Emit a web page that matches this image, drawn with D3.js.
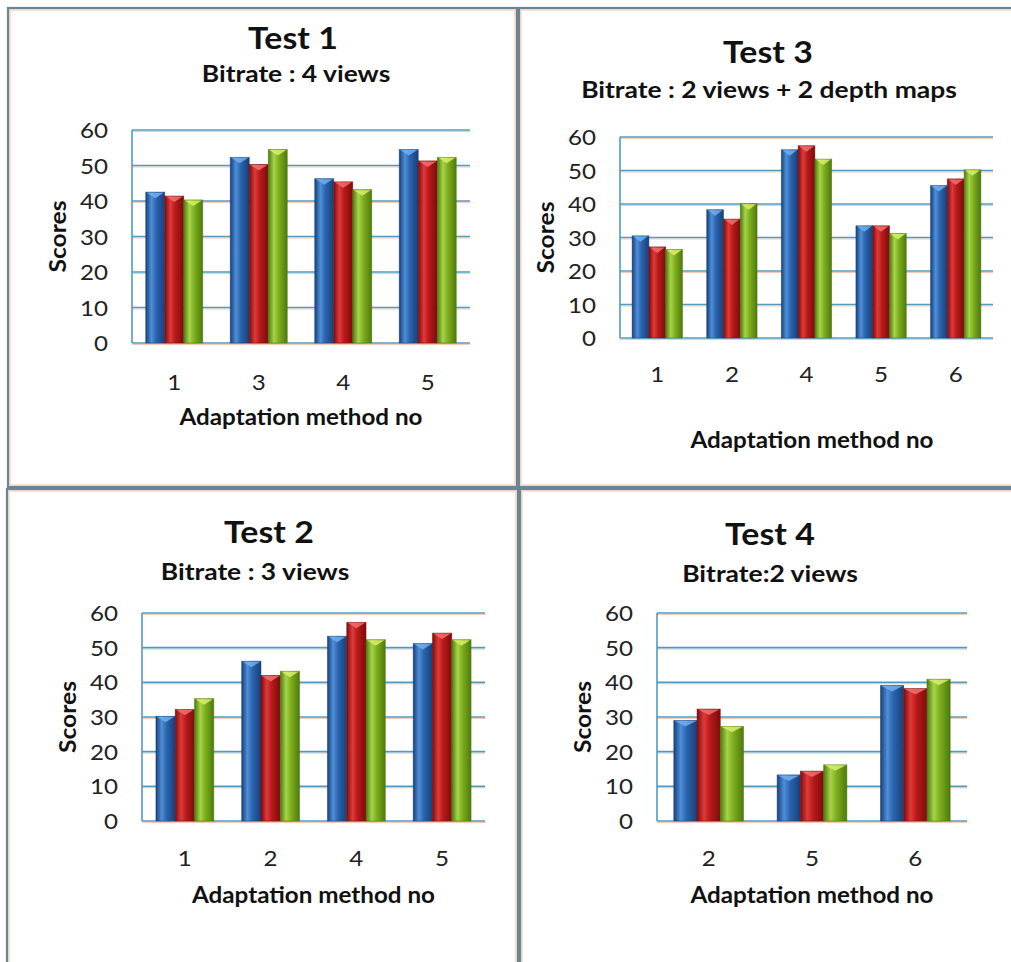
<!DOCTYPE html>
<html>
<head>
<meta charset="utf-8">
<script src="https://cdn.jsdelivr.net/npm/d3@7"></script>
<style>
  html, body { margin: 0; padding: 0; background: #fff; }
  svg { display: block; font-family: Lato, "Open Sans", sans-serif; }
</style>
</head>
<body>
<svg id="chart" width="1011" height="962"></svg>
<script>
// ---------- DATA ----------
const yTicks = [0, 10, 20, 30, 40, 50, 60];

const test1Categories = ["1", "3", "4", "5"];
const test1Blue  = [42.5, 52.3, 46.3, 54.5];
const test1Red   = [41.4, 50.3, 45.4, 51.3];
const test1Green = [40.3, 54.5, 43.2, 52.3];

const test3Categories = ["1", "2", "4", "5", "6"];
const test3Blue  = [30.5, 38.3, 56.2, 33.5, 45.5];
const test3Red   = [27.2, 35.5, 57.4, 33.5, 47.5];
const test3Green = [26.4, 40.1, 53.4, 31.2, 50.2];

const test2Categories = ["1", "2", "4", "5"];
const test2Blue  = [30.2, 46.1, 53.3, 51.2];
const test2Red   = [32.2, 42.0, 57.3, 54.2];
const test2Green = [35.3, 43.2, 52.3, 52.3];

const test4Categories = ["2", "5", "6"];
const test4Blue  = [29.0, 13.3, 39.1];
const test4Red   = [32.3, 14.4, 38.2];
const test4Green = [27.3, 16.2, 40.9];

const titles    = ["Test 1", "Test 3", "Test 2", "Test 4"];
const subtitles = ["Bitrate : 4 views", "Bitrate : 2 views + 2 depth maps", "Bitrate : 3 views", "Bitrate:2 views"];
const yAxisTitle = "Scores";
const xAxisTitle = "Adaptation method no";

// ---------- LAYOUT ----------
const panels = [
  { box: [8, 8, 517, 487],   plot: [132, 130, 470, 343], title: [293, 49], sub: [296, 82], xlab: 390, xtitle: 425,
    cats: test1Categories, series: [test1Blue, test1Red, test1Green] },
  { box: [519, 8, 1016, 487], plot: [620, 137, 993, 338], title: [768, 63], sub: [769, 98], xlab: 382, xtitle: 448, xtitleX: 812,
    cats: test3Categories, series: [test3Blue, test3Red, test3Green] },
  { box: [7, 489, 518, 970],  plot: [142, 613, 485, 821], title: [269, 543], sub: [255, 580], xlab: 866, xtitle: 903,
    cats: test2Categories, series: [test2Blue, test2Red, test2Green] },
  { box: [520, 489, 1016, 970], plot: [657, 613, 967, 821], title: [770, 545], sub: [770, 582], xlab: 866, xtitle: 903,
    cats: test4Categories, series: [test4Blue, test4Red, test4Green] }
];

const palette = [
  { dark: "#17407a", mid: "#2b64ad", light: "#4f8fda", cap: "#6fb0ee" },
  { dark: "#7d0c0c", mid: "#b81a1a", light: "#e03a3a", cap: "#f07070" },
  { dark: "#4d7a0c", mid: "#7fae1e", light: "#a6d44a", cap: "#d8ee6a" }
];

const svg = d3.select("#chart");
const defs = svg.append("defs");
palette.forEach((c, i) => {
  const g = defs.append("linearGradient").attr("id", "grad" + i)
    .attr("x1", "0").attr("x2", "1").attr("y1", "0").attr("y2", "0");
  g.append("stop").attr("offset", "0").attr("stop-color", c.dark);
  g.append("stop").attr("offset", "0.3").attr("stop-color", c.light);
  g.append("stop").attr("offset", "0.55").attr("stop-color", c.mid);
  g.append("stop").attr("offset", "1").attr("stop-color", c.dark);
});

svg.append("rect").attr("width", 1011).attr("height", 962).attr("fill", "#fff");

function stretchedText(g, x, y, str, size, sx, bold, anchor, rotate) {
  const tr = `translate(${x},${y})` + (rotate ? " rotate(-90)" : "") + ` scale(${sx},1)`;
  return g.append("text").attr("transform", tr).attr("text-anchor", anchor || "middle")
    .attr("font-size", size).attr("font-weight", bold ? "bold" : "normal")
    .attr("fill", bold ? "#111" : "#222").text(str);
}

panels.forEach((p, pi) => {
  const g = svg.append("g");
  const [bx0, by0, bx1, by1] = p.box;
  g.append("rect").attr("x", bx0 + 2).attr("y", by0 + 2).attr("width", bx1 - bx0 - 4).attr("height", by1 - by0 - 4)
    .attr("fill", "none").attr("stroke", "#f6d6c8").attr("stroke-width", 1.5);
  g.append("rect").attr("x", bx0).attr("y", by0).attr("width", bx1 - bx0).attr("height", by1 - by0)
    .attr("fill", "none").attr("stroke", "#6c8592").attr("stroke-width", 2.2);

  const [x0, y0, x1, y1] = p.plot;
  const y = d3.scaleLinear().domain([0, 60]).range([y1, y0]);
  const x = d3.scaleBand().domain(p.cats).range([x0, x1]).padding(0);
  const bw = x.bandwidth();
  const xs = d3.scaleBand().domain([0, 1, 2]).range([bw * 0.1625, bw * 0.8375]).padding(0);

  // gridlines
  const grid = g.append("g");
  yTicks.forEach(t => {
    grid.append("line").attr("x1", x0).attr("x2", x1).attr("y1", y(t) + 1.5).attr("y2", y(t) + 1.5)
      .attr("stroke", "#f5c9b6").attr("stroke-width", 1);
    grid.append("line").attr("x1", x0).attr("x2", x1).attr("y1", y(t)).attr("y2", y(t))
      .attr("stroke", "#4f9cc2").attr("stroke-width", 1.6);
  });
  grid.append("line").attr("x1", x0).attr("x2", x0).attr("y1", y0).attr("y2", y1)
    .attr("stroke", "#4f9cc2").attr("stroke-width", 1.6);

  // y axis labels (positions from the d3 axis, stretched glyphs)
  const yAxis = d3.axisLeft(y).tickValues(yTicks).tickSize(0).tickPadding(24);
  const ya = g.append("g").attr("transform", `translate(${x0},0)`).call(yAxis);
  ya.select(".domain").remove();
  ya.selectAll(".tick text").each(function(d) {
    const t = d3.select(this);
    t.attr("font-size", 21).attr("fill", "#222").attr("font-family", "Lato, sans-serif")
      .attr("x", null).attr("dy", null)
      .attr("transform", `translate(-24,7.5) scale(1.15,1)`);
  });

  // x axis labels
  const xAxis = d3.axisBottom(x).tickSize(0).tickPadding(0);
  const xa = g.append("g").attr("transform", `translate(0,${p.xlab})`).call(xAxis);
  xa.select(".domain").remove();
  xa.selectAll(".tick text").attr("font-size", 21).attr("fill", "#222").attr("font-family", "Lato, sans-serif")
    .attr("y", null).attr("dy", null).attr("transform", "scale(1.15,1)");

  // bars
  p.series.forEach((vals, si) => {
    const c = palette[si];
    vals.forEach((v, ci) => {
      const bx = x(p.cats[ci]) + xs(si);
      const w = xs.bandwidth();
      const top = y(v);
      g.append("rect").attr("x", bx).attr("y", top).attr("width", w).attr("height", y1 - top)
        .attr("fill", `url(#grad${si})`);
      g.append("rect").attr("x", bx).attr("y", top).attr("width", w).attr("height", y1 - top)
        .attr("fill", "none").attr("stroke", c.dark).attr("stroke-width", 0.8).attr("stroke-opacity", 0.6);
      g.append("path")
        .attr("d", `M${bx + 1},${top + 0.5} L${bx + w - 1},${top + 0.5} L${bx + w * 0.5},${top + 6} Z`)
        .attr("fill", c.cap).attr("opacity", 0.85);
    });
  });

  // titles
  stretchedText(g, p.title[0], p.title[1], titles[pi], 30, 1.13, true);
  stretchedText(g, p.sub[0], p.sub[1], subtitles[pi], 23, 1.15, true);

  // axis titles
  stretchedText(g, x0 - 66, (y0 + y1) / 2, yAxisTitle, 22, 1.12, true, "middle", true);
  stretchedText(g, p.xtitleX || (x0 + x1) / 2, p.xtitle, xAxisTitle, 22, 1.1, true);
});
</script>
</body>
</html>
